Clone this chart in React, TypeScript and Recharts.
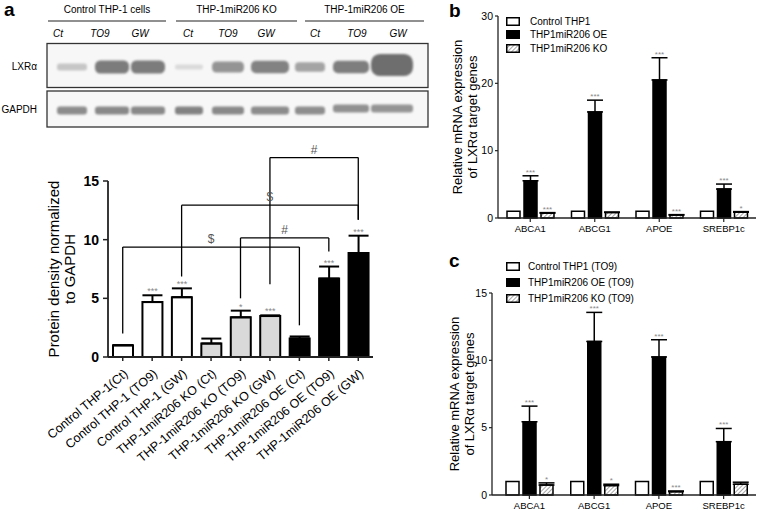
import React from 'react';
import { ComposedChart, BarChart, Bar, XAxis, YAxis, ErrorBar, Cell, LabelList, ReferenceLine, Legend } from 'recharts';

const FONT = '"Liberation Sans", Arial, Helvetica, sans-serif';

// ---------- Panel a: western blot ----------
const blotGroups = ['Control THP-1 cells', 'THP-1miR206 KO', 'THP-1miR206 OE'];
const blotLanes = ['Ct', 'TO9', 'GW', 'Ct', 'TO9', 'GW', 'Ct', 'TO9', 'GW'];
const blotRows = ['LXRα', 'GAPDH'];
const lxrDensity = [0.35, 0.9, 0.9, 0.2, 0.72, 0.85, 0.6, 0.88, 1.0];
const gapdhDensity = [0.78, 0.8, 0.8, 0.85, 0.8, 0.78, 0.76, 0.74, 0.72];

// ---------- Panel a: protein density ----------
const aCategories = [
  'Control THP-1(Ct)', 'Control THP-1 (TO9)', 'Control THP-1 (GW)',
  'THP-1miR206 KO (Ct)', 'THP-1miR206 KO (TO9)', 'THP-1miR206 KO (GW)',
  'THP-1miR206 OE (Ct)', 'THP-1miR206 OE (TO9)', 'THP-1miR206 OE (GW)',
];
const aValues = [1.0, 4.68, 5.1, 1.15, 3.38, 3.49, 1.58, 6.68, 8.86];
const aErrors = [0, 0.58, 0.75, 0.42, 0.57, 0.06, 0.17, 1.03, 1.48];
const aStars = ['', '***', '***', '', '*', '***', '', '***', '***'];
const aGroup = [0, 0, 0, 1, 1, 1, 2, 2, 2];
const aYTicks = [0, 5, 10, 15];
const aBrackets = [
  { from: 0, to: 6, top: 9.37, fromEnd: 2.0, toEnd: 2.7, mark: '$' },
  { from: 4, to: 7, top: 10.15, fromEnd: 5.0, toEnd: 9.0, mark: '#' },
  { from: 2, to: 8, top: 12.94, fromEnd: 6.86, toEnd: 11.7, mark: '$' },
  { from: 5, to: 8, top: 17.0, fromEnd: 6.2, toEnd: 11.7, mark: '#' },
];

// ---------- Panel b ----------
const genes = ['ABCA1', 'ABCG1', 'APOE', 'SREBP1c'];
const bSeries = ['Control THP1', 'THP1miR206 OE', 'THP1miR206 KO'];
const bControl = [1, 1, 1, 1];
const bOE = [5.53, 15.75, 20.5, 4.3];
const bOEErr = [0.74, 1.75, 3.3, 0.74];
const bOEStars = ['***', '***', '***', '***'];
const bKO = [0.72, 0.82, 0.44, 0.85];
const bKOErr = [0.08, 0.06, 0.06, 0.1];
const bKOStars = ['***', '', '***', '*'];
const bYTicks = [0, 10, 20, 30];

// ---------- Panel c ----------
const cSeries = ['Control THP1 (TO9)', 'THP1miR206 OE (TO9)', 'THP1miR206 KO (TO9)'];
const cControl = [1, 1, 1, 1];
const cOE = [5.44, 11.4, 10.25, 3.96];
const cOEErr = [1.16, 2.16, 1.28, 0.98];
const cOEStars = ['***', '***', '***', '***'];
const cKO = [0.74, 0.7, 0.25, 0.8];
const cKOErr = [0.16, 0.1, 0.05, 0.15];
const cKOStars = ['*', '*', '***', ''];
const cYTicks = [0, 5, 10, 15];

const yLabelLines = ['Relative mRNA expression', 'of LXRα target genes'];
const aYLabelLines = ['Protein density normalized', 'to GAPDH'];

// ---------- styles ----------
const AXIS = '#222';
const groupFills = ['#ffffff', '#d9d9d9', '#000000'];

function makeStarLabel(stars: string[], values: number[], errs: number[], fontSize: number) {
  return (props: any) => {
    const idx = props.index;
    const s = stars[idx];
    if (!s) return null;
    const vb = props.viewBox || {};
    const x = props.x ?? vb.x;
    const y = props.y ?? vb.y;
    const w = props.width ?? vb.width;
    const h = props.height ?? vb.height;
    const v = values[idx];
    const e = errs[idx] || 0;
    const ppu = v ? Math.abs(h) / v : 0;
    const top = y - e * ppu;
    return (
      <text x={x + w / 2} y={top - 1} textAnchor="middle" fontSize={fontSize} fill="#888" fontFamily={FONT}>
        {s}
      </text>
    );
  };
}

function Blot() {
  const laneX = [58, 100, 140, 188, 228, 266, 315, 357, 398];
  const bandX = [72, 112, 148, 189, 228, 270, 310, 351, 392];
  const bandW = [30, 34, 34, 28, 32, 38, 30, 36, 42];
  const groupLines = [[48, 166], [176, 297], [305, 424]];
  const gray = (d: number) => {
    const g = Math.round(245 - d * 135);
    return `rgb(${g},${g},${g})`;
  };
  return (
    <svg width={440} height={140} style={{ position: 'absolute', left: 0, top: 0 }} fontFamily={FONT}>
      <defs>
        <filter id="bandBlur" x="-30%" y="-80%" width="160%" height="260%">
          <feGaussianBlur stdDeviation="1.3" />
        </filter>
      </defs>
      <text x={4} y={16} fontSize={19} fontWeight="bold">a</text>
      {blotGroups.map((g, i) => (
        <g key={g}>
          <text x={(groupLines[i][0] + groupLines[i][1]) / 2} y={13} fontSize={10} textAnchor="middle">{g}</text>
          <line x1={groupLines[i][0]} x2={groupLines[i][1]} y1={21} y2={21} stroke="#222" strokeWidth={1.2} />
        </g>
      ))}
      {blotLanes.map((l, i) => (
        <text key={i} x={laneX[i]} y={37} fontSize={10} fontStyle="italic" textAnchor="middle">{l}</text>
      ))}
      <rect x={47} y={43.5} width={381} height={44} fill="#f7f7f7" stroke="#333" strokeWidth={1.3} />
      <rect x={47} y={91} width={381} height={36} fill="#f7f7f7" stroke="#333" strokeWidth={1.3} />
      <text x={37} y={70} fontSize={10} textAnchor="end">{blotRows[0]}</text>
      <text x={37} y={113} fontSize={10} textAnchor="end">{blotRows[1]}</text>
      <g filter="url(#bandBlur)">
        {lxrDensity.map((d, i) => {
          const h = i === 8 ? 22 : 3 + d * 11;
          const cy = i === 8 ? 65 : 67;
          return <rect key={i} x={bandX[i] - bandW[i] / 2} y={cy - h / 2} width={bandW[i]} height={h} rx={h / 2.5} fill={gray(d)} />;
        })}
        {gapdhDensity.map((d, i) => {
          const cy = i >= 7 ? 108.5 : 110.5;
          return <rect key={i} x={bandX[i] - bandW[i] / 2} y={cy - 4} width={bandW[i]} height={8} rx={3} fill={gray(d)} />;
        })}
      </g>
    </svg>
  );
}

function PanelA() {
  const data = aCategories.map((name, i) => ({ name, value: aValues[i], err: [0, aErrors[i]], stars: aStars[i] }));
  const tick = (p: any) => {
    const x = p.x + 6;
    const y = p.y + 12;
    return (
      <text x={x} y={y} transform={`rotate(-40, ${x}, ${y})`} textAnchor="end" fontSize={12.5} fill="#000" fontFamily={FONT}>
        {p.payload.value}
      </text>
    );
  };
  const yLabel = (p: any) => {
    const vb = p.viewBox || {};
    const cy = vb.y + vb.height / 2;
    return (
      <g>
        {aYLabelLines.map((t, i) => {
          const x = vb.x + 58.5 + i * 16;
          return (
            <text key={i} x={x} y={cy} transform={`rotate(-90, ${x}, ${cy})`} textAnchor="middle" fontSize={15} fill="#000" fontFamily={FONT}>{t}</text>
          );
        })}
      </g>
    );
  };
  return (
    <div style={{ position: 'absolute', left: 0, top: 140 }}>
      <ComposedChart width={400} height={371} data={data} margin={{ top: 41, right: 27, left: 0, bottom: 0 }} style={{ overflow: 'visible' }}>
        <XAxis dataKey="name" type="category" height={154} interval={0} tick={tick} tickSize={4} tickMargin={2}
          axisLine={{ stroke: AXIS, strokeWidth: 1.8 }} tickLine={{ stroke: AXIS, strokeWidth: 1.5 }} />
        <YAxis width={108} domain={[0, 15]} ticks={aYTicks} tickSize={5} tickMargin={4}
          tick={{ fontSize: 14, fontWeight: 'bold', fill: '#000', fontFamily: FONT }}
          axisLine={{ stroke: AXIS, strokeWidth: 1.8 }} tickLine={{ stroke: AXIS, strokeWidth: 1.5 }} label={yLabel} />
        <Bar dataKey="value" barSize={20} stroke="#000" strokeWidth={2} isAnimationActive={false}>
          {data.map((d, i) => <Cell key={i} fill={groupFills[aGroup[i]]} />)}
          <ErrorBar dataKey="err" width={10} strokeWidth={2} stroke="#000" direction="y" />
          <LabelList dataKey="stars" content={makeStarLabel(aStars, aValues, aErrors, 9)} />
        </Bar>
        {aBrackets.flatMap((b, i) => [
          <ReferenceLine key={`h${i}`} ifOverflow="visible" stroke="#000" strokeWidth={1.3}
            segment={[{ x: aCategories[b.from], y: b.top }, { x: aCategories[b.to], y: b.top }]}
            label={{ value: b.mark, position: 'top', offset: 4, fill: '#555', fontSize: 12, fontFamily: FONT }} />,
          <ReferenceLine key={`l${i}`} ifOverflow="visible" stroke="#000" strokeWidth={1.3}
            segment={[{ x: aCategories[b.from], y: b.top }, { x: aCategories[b.from], y: b.fromEnd }]} />,
          <ReferenceLine key={`r${i}`} ifOverflow="visible" stroke="#000" strokeWidth={1.3}
            segment={[{ x: aCategories[b.to], y: b.top }, { x: aCategories[b.to], y: b.toEnd }]} />,
        ])}
      </ComposedChart>
    </div>
  );
}

function LegendSwatch({ kind, pid }: { kind: number; pid: string }) {
  return (
    <svg width={14} height={9} style={{ display: 'block' }}>
      <defs>
        <pattern id={pid} width="3" height="3" patternUnits="userSpaceOnUse" patternTransform="rotate(45)">
          <rect width="3" height="3" fill="#fff" />
          <line x1="0" y1="0" x2="0" y2="3" stroke="#777" strokeWidth="1.3" />
        </pattern>
      </defs>
      <rect x={0.75} y={0.75} width={12.5} height={7.5}
        fill={kind === 0 ? '#fff' : kind === 1 ? '#000' : `url(#${pid})`} stroke="#000" strokeWidth={1.5} />
    </svg>
  );
}

function GenePanel(props: any) {
  const { id, left, top, width, height, marginTop, yAxisWidth, domain, ticks, control, oe, oeErr, oeStars, ko, koErr, koStars,
    series, legendTop, legendRow, legendLeft, legendGap, labelX, panel, panelY, padLeft } = props;
  const data = genes.map((g, i) => ({ gene: g, control: control[i], oe: oe[i], oeErr: [0, oeErr[i]], ko: ko[i], koErr: [0, koErr[i]], oeStar: oeStars[i], koStar: koStars[i] }));
  const xAxisHeight = height - marginTop - 202;
  const yLabel = (p: any) => {
    const vb = p.viewBox || {};
    const cy = vb.y + vb.height / 2;
    return (
      <g>
        {yLabelLines.map((t, i) => {
          const x = vb.x + labelX[i];
          return (
            <text key={i} x={x} y={cy} transform={`rotate(-90, ${x}, ${cy})`} textAnchor="middle" fontSize={13} fill="#000" fontFamily={FONT}>{t}</text>
          );
        })}
      </g>
    );
  };
  const hatchId = `hatch-${id}`;
  return (
    <div style={{ position: 'absolute', left, top }}>
      <div style={{ position: 'absolute', left: 49, top: panelY, fontSize: 19, fontWeight: 'bold', fontFamily: FONT, lineHeight: 1 }}>{panel}</div>
      <BarChart width={width} height={height} data={data} margin={{ top: marginTop, right: 2, left: 0, bottom: 0 }} barGap={4} style={{ overflow: 'visible' }}>
        <defs>
          <pattern id={hatchId} width="3" height="3" patternUnits="userSpaceOnUse" patternTransform="rotate(45)">
            <rect width="3" height="3" fill="#fff" />
            <line x1="0" y1="0" x2="0" y2="3" stroke="#777" strokeWidth="1.3" />
          </pattern>
        </defs>
        <XAxis dataKey="gene" height={xAxisHeight} interval={0} tickSize={4} tickMargin={3} padding={{ left: padLeft, right: 0 }}
          tick={{ fontSize: 9.5, fill: '#000', fontFamily: FONT }}
          axisLine={{ stroke: AXIS, strokeWidth: 1.3 }} tickLine={{ stroke: AXIS, strokeWidth: 1.2 }} />
        <YAxis width={yAxisWidth} domain={domain} ticks={ticks} tickSize={3} tickMargin={2}
          tick={{ fontSize: 10.5, fill: '#000', fontFamily: FONT }}
          axisLine={{ stroke: AXIS, strokeWidth: 1.3 }} tickLine={{ stroke: AXIS, strokeWidth: 1.2 }} label={yLabel} />
        <Legend layout="horizontal" verticalAlign="middle" align="center"
          wrapperStyle={{ left: legendLeft, top: legendTop, width: 200, height: legendRow * 3 }}
          content={() => (
            <div style={{ fontFamily: FONT, fontSize: 10, color: '#000' }}>
              {series.map((s: string, i: number) => (
                <div key={s} style={{ display: 'flex', alignItems: 'center', height: legendRow }}>
                  <LegendSwatch kind={i} pid={`${hatchId}-lg${i}`} />
                  <span style={{ marginLeft: legendGap, whiteSpace: 'nowrap' }}>{s}</span>
                </div>
              ))}
            </div>
          )} />
        <Bar dataKey="control" name={series[0]} fill="#fff" stroke="#000" strokeWidth={1.5} barSize={13} isAnimationActive={false} />
        <Bar dataKey="oe" name={series[1]} fill="#000" stroke="#000" strokeWidth={1.5} barSize={13} isAnimationActive={false}>
          <ErrorBar dataKey="oeErr" width={8} strokeWidth={1.5} stroke="#000" direction="y" />
          <LabelList dataKey="oeStar" content={makeStarLabel(oeStars, oe, oeErr, 8)} />
        </Bar>
        <Bar dataKey="ko" name={series[2]} fill={`url(#${hatchId})`} stroke="#000" strokeWidth={1.5} barSize={13} isAnimationActive={false}>
          <ErrorBar dataKey="koErr" width={8} strokeWidth={1.5} stroke="#000" direction="y" />
          <LabelList dataKey="koStar" content={makeStarLabel(koStars, ko, koErr, 8)} />
        </Bar>
      </BarChart>
    </div>
  );
}

export default function App() {
  return (
    <div style={{ position: 'absolute', left: 0, top: 0, width: 758, height: 511, background: '#fff', overflow: 'hidden', fontFamily: FONT }}>
      <Blot />
      <PanelA />
      <GenePanel id="b" left={400} top={0} width={358} height={250} marginTop={16} yAxisWidth={98} padLeft={0}
        domain={[0, 30]} ticks={bYTicks} control={bControl} oe={bOE} oeErr={bOEErr} oeStars={bOEStars}
        ko={bKO} koErr={bKOErr} koStars={bKOStars} series={bSeries}
        legendTop={15} legendRow={13.3} legendLeft={106} legendGap={10} labelX={[61.5, 76.5]} panel="b" panelY={1} />
      <GenePanel id="c" left={400} top={250} width={358} height={261} marginTop={43} yAxisWidth={92} padLeft={5}
        domain={[0, 15]} ticks={cYTicks} control={cControl} oe={cOE} oeErr={cOEErr} oeStars={cOEStars}
        ko={cKO} koErr={cKOErr} koStars={cKOStars} series={cSeries}
        legendTop={8} legendRow={16} legendLeft={106} legendGap={8} labelX={[58.7, 73.7]} panel="c" panelY={1} />
    </div>
  );
}
